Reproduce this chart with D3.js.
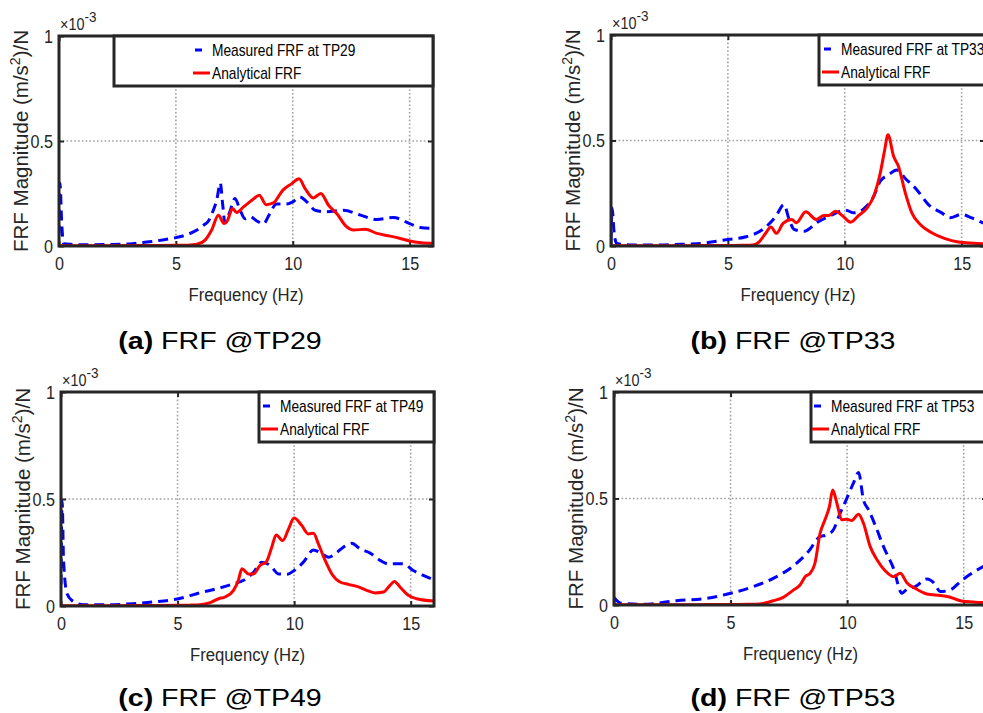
<!DOCTYPE html>
<html>
<head>
<meta charset="utf-8">
<script src="https://cdn.jsdelivr.net/npm/d3@7"></script>
<style>
  body { margin: 0; background: #fff; }
  svg { display: block; }
  text { font-family: "Liberation Sans", Arial, sans-serif; }
  .dark { fill: #262626; }
</style>
</head>
<body>
<svg class="chart" width="983" height="713"></svg>
<script>
// values are in units of 1e-3 (m/s^2)/N
const tp29MeasFreq = [0, 0.04, 0.12, 0.2, 0.5, 1, 2, 3, 3.5, 4, 4.5, 5, 5.5, 5.9, 6.2, 6.4, 6.6, 6.75, 6.9, 7.0, 7.1, 7.3, 7.53, 7.75, 7.96, 8.17, 8.45, 8.74, 9.0, 9.3, 9.74, 10.0, 10.3, 10.6, 10.96, 11.45, 12.17, 12.9, 13.6, 14.3, 15.0, 15.45, 16];
const tp29MeasMag = [0.05, 0.30, 0.1, 0.012, 0.008, 0.006, 0.007, 0.01, 0.016, 0.022, 0.03, 0.04, 0.055, 0.076, 0.1, 0.12, 0.17, 0.22, 0.30, 0.2, 0.11, 0.16, 0.226, 0.17, 0.13, 0.14, 0.12, 0.105, 0.15, 0.2, 0.2, 0.21, 0.234, 0.21, 0.17, 0.163, 0.17, 0.147, 0.126, 0.136, 0.107, 0.088, 0.084];
const tp29AnaFreq = [0, 1, 2, 3, 4, 5, 5.5, 5.9, 6.25, 6.53, 6.82, 7.06, 7.2, 7.42, 7.6, 7.89, 8.25, 8.57, 8.86, 9.17, 9.57, 9.96, 10.27, 10.53, 10.88, 11.2, 11.53, 11.88, 12.3, 12.6, 13.1, 13.6, 14.17, 14.6, 15.0, 15.5, 16];
const tp29AnaMag = [0.001, 0.001, 0.001, 0.002, 0.002, 0.003, 0.004, 0.008, 0.028, 0.076, 0.147, 0.107, 0.12, 0.178, 0.16, 0.186, 0.218, 0.242, 0.197, 0.205, 0.265, 0.297, 0.32, 0.273, 0.229, 0.25, 0.194, 0.155, 0.092, 0.076, 0.08, 0.06, 0.047, 0.036, 0.024, 0.016, 0.013];

const tp33MeasFreq = [0, 0.05, 0.12, 0.24, 0.5, 1, 2, 3, 3.9, 5, 5.78, 6.5, 7.05, 7.4, 7.62, 7.83, 8.26, 8.83, 9.32, 10.03, 10.39, 10.81, 11.24, 11.52, 11.88, 12.23, 12.59, 13.08, 13.58, 14.15, 14.5, 15, 15.4, 16];
const tp33MeasMag = [0.02, 0.18, 0.08, 0.012, 0.008, 0.005, 0.005, 0.008, 0.013, 0.031, 0.044, 0.079, 0.14, 0.196, 0.126, 0.079, 0.07, 0.113, 0.14, 0.17, 0.157, 0.176, 0.236, 0.307, 0.338, 0.36, 0.32, 0.267, 0.196, 0.157, 0.134, 0.15, 0.134, 0.105];
const tp33AnaFreq = [0, 1, 2, 3, 4, 5, 5.6, 6.06, 6.34, 6.63, 6.84, 7.08, 7.36, 7.73, 7.93, 8.33, 8.78, 9.11, 9.32, 9.6, 9.89, 10.25, 10.6, 10.95, 11.24, 11.52, 11.7, 11.85, 12.09, 12.3, 12.59, 12.87, 13.23, 13.72, 14.29, 14.86, 15.5, 16];
const tp33AnaMag = [0.001, 0.001, 0.001, 0.001, 0.002, 0.002, 0.003, 0.005, 0.02, 0.063, 0.09, 0.06, 0.107, 0.126, 0.11, 0.162, 0.126, 0.145, 0.145, 0.165, 0.145, 0.113, 0.145, 0.18, 0.236, 0.346, 0.45, 0.527, 0.425, 0.377, 0.252, 0.157, 0.102, 0.063, 0.035, 0.019, 0.013, 0.01];

const tp49MeasFreq = [0, 0.05, 0.11, 0.26, 0.47, 0.97, 2, 3.1, 3.97, 5, 5.97, 6.69, 7.4, 7.83, 8.26, 8.61, 8.97, 9.33, 9.69, 10.04, 10.4, 10.83, 11.11, 11.47, 11.83, 12.11, 12.47, 12.83, 13.26, 13.69, 14.04, 14.69, 15.11, 15.54, 16];
const tp49MeasMag = [0.1, 0.49, 0.21, 0.057, 0.026, 0.006, 0.006, 0.011, 0.019, 0.033, 0.062, 0.081, 0.104, 0.12, 0.158, 0.205, 0.19, 0.15, 0.148, 0.169, 0.205, 0.262, 0.25, 0.228, 0.25, 0.275, 0.293, 0.267, 0.247, 0.213, 0.197, 0.197, 0.166, 0.143, 0.122];
const tp49AnaFreq = [0, 1, 2, 3, 4, 5, 5.5, 5.97, 6.4, 6.76, 7.04, 7.4, 7.61, 7.76, 8.04, 8.26, 8.54, 8.8, 9.04, 9.23, 9.51, 9.76, 10.0, 10.33, 10.61, 10.83, 11.04, 11.33, 11.61, 11.97, 12.33, 12.76, 13.11, 13.47, 13.83, 14.11, 14.3, 14.54, 14.9, 15.26, 16];
const tp49AnaMag = [0.001, 0.001, 0.001, 0.002, 0.002, 0.003, 0.004, 0.006, 0.016, 0.034, 0.042, 0.073, 0.12, 0.174, 0.15, 0.15, 0.19, 0.205, 0.275, 0.332, 0.306, 0.36, 0.411, 0.376, 0.337, 0.34, 0.29, 0.213, 0.151, 0.112, 0.101, 0.089, 0.073, 0.061, 0.065, 0.096, 0.115, 0.089, 0.05, 0.034, 0.023];

const tp53MeasFreq = [0, 0.17, 0.3, 1.25, 2.68, 3.97, 5, 5.97, 6.83, 7.69, 8.34, 8.84, 9.13, 9.41, 9.7, 9.96, 10.27, 10.49, 10.7, 10.92, 11.2, 11.56, 11.99, 12.35, 12.56, 12.92, 13.42, 13.71, 14.0, 14.43, 14.86, 15.28, 16];
const tp53MeasMag = [0.036, 0.016, 0.008, 0.003, 0.02, 0.031, 0.055, 0.086, 0.125, 0.183, 0.251, 0.321, 0.329, 0.353, 0.431, 0.494, 0.572, 0.622, 0.494, 0.447, 0.376, 0.274, 0.172, 0.055, 0.074, 0.086, 0.122, 0.105, 0.063, 0.071, 0.11, 0.144, 0.19];
const tp53AnaFreq = [0, 1, 2, 3, 4, 5, 5.7, 6.26, 6.83, 7.26, 7.69, 7.98, 8.2, 8.41, 8.62, 8.84, 9.05, 9.24, 9.38, 9.56, 9.77, 9.99, 10.2, 10.49, 10.7, 10.99, 11.28, 11.63, 11.99, 12.28, 12.56, 12.99, 13.42, 14.0, 14.35, 14.86, 15.5, 16];
const tp53AnaMag = [0.001, 0.001, 0.001, 0.001, 0.002, 0.002, 0.003, 0.005, 0.02, 0.036, 0.07, 0.094, 0.133, 0.149, 0.196, 0.337, 0.4, 0.462, 0.54, 0.478, 0.4, 0.403, 0.397, 0.426, 0.384, 0.274, 0.212, 0.161, 0.133, 0.149, 0.105, 0.074, 0.052, 0.045, 0.039, 0.02, 0.013, 0.011];

const xTicks = [0, 5, 10, 15];
const yTicks = [0, 0.5, 1];
const yTickLabels = ['0', '0.5', '1'];
const testPoints = ['TP29', 'TP33', 'TP49', 'TP53'];
const panelTags = ['(a)', '(b)', '(c)', '(d)'];

const zip = (xs, ys) => xs.map((x, i) => [x, ys[i]]);
const series = [
  [zip(tp29MeasFreq, tp29MeasMag), zip(tp29AnaFreq, tp29AnaMag)],
  [zip(tp33MeasFreq, tp33MeasMag), zip(tp33AnaFreq, tp33AnaMag)],
  [zip(tp49MeasFreq, tp49MeasMag), zip(tp49AnaFreq, tp49AnaMag)],
  [zip(tp53MeasFreq, tp53MeasMag), zip(tp53AnaFreq, tp53AnaMag)],
];

// axes boxes, legend boxes and caption spots, in page pixels
const layouts = [
  { left: 59, top: 36, right: 433, bottom: 246, legend: { x0: 114, x1: 433, h: 50, sx: 193 }, capX: 220, capY: 349 },
  { left: 611, top: 35, right: 985, bottom: 246, legend: { x0: 819, x1: 990, h: 50, sx: 822 }, capX: 793, capY: 349 },
  { left: 61, top: 392, right: 434, bottom: 606, legend: { x0: 259, x1: 434, h: 50, sx: 261 }, capX: 220, capY: 706 },
  { left: 614, top: 392, right: 987, bottom: 605, legend: { x0: 811, x1: 990, h: 50, sx: 812 }, capX: 793, capY: 706 },
];

const svg = d3.select('.chart');
const axisColor = '#262626';

// the figure's lettering is squeezed or stretched sideways, so scale it in x
const scaledText = (parent, x, y, sx, size) => parent.append('g')
  .attr('transform', `translate(${x},${y}) scale(${sx},1)`)
  .append('text')
  .attr('font-size', size);

const drawPanel = (lay, i) => {
  const [measured, analytical] = series[i];
  const x = d3.scaleLinear().domain([0, 16]).range([lay.left, lay.right]);
  const y = d3.scaleLinear().domain([0, 1]).range([lay.bottom, lay.top]);
  const g = svg.append('g');
  const clipId = `clip-${i}`;

  g.append('clipPath').attr('id', clipId)
    .append('rect')
    .attr('x', lay.left).attr('y', lay.top)
    .attr('width', lay.right - lay.left).attr('height', lay.bottom - lay.top);

  // dotted grid
  const grid = g.append('g')
    .attr('stroke', '#a0a0a0').attr('stroke-width', 1.6).attr('stroke-dasharray', '1.6,2.2');
  grid.selectAll('.gx').data(xTicks.slice(1)).enter().append('line')
    .attr('x1', d => x(d)).attr('x2', d => x(d))
    .attr('y1', lay.top).attr('y2', lay.bottom);
  grid.selectAll('.gy').data([0.5]).enter().append('line')
    .attr('x1', lay.left).attr('x2', lay.right)
    .attr('y1', d => y(d)).attr('y2', d => y(d));

  // axes with inward ticks and box
  const xAxis = d3.axisBottom(x).tickValues(xTicks).tickSize(-5).tickPadding(11);
  const yAxis = d3.axisLeft(y).tickValues(yTicks).tickSize(-5).tickPadding(7)
    .tickFormat((d, k) => yTickLabels[k]);
  const styleAxis = sel => {
    sel.select('.domain').remove();
    sel.attr('font-family', null).attr('font-size', null);
    sel.selectAll('line').attr('stroke', axisColor).attr('stroke-width', 2);
    sel.selectAll('text')
      .attr('font-size', 19).attr('fill', axisColor)
      .attr('transform', 'scale(0.85,1)');
  };
  g.append('g').attr('transform', `translate(0,${lay.bottom})`).call(xAxis).call(styleAxis);
  g.append('g').attr('transform', `translate(${lay.left},0)`).call(yAxis).call(styleAxis);
  g.append('g').attr('transform', `translate(0,${lay.top})`)
    .call(d3.axisTop(x).tickValues(xTicks).tickSize(-5).tickFormat(''))
    .call(styleAxis);
  g.append('g').attr('transform', `translate(${lay.right},0)`)
    .call(d3.axisRight(y).tickValues(yTicks).tickSize(-5).tickFormat(''))
    .call(styleAxis);

  // curves
  const line = d3.line().x(d => x(d[0])).y(d => y(d[1])).curve(d3.curveMonotoneX);
  const plot = g.append('g').attr('clip-path', `url(#${clipId})`);
  plot.append('path').datum(measured)
    .attr('d', line).attr('fill', 'none')
    .attr('stroke', '#0000ff').attr('stroke-width', 3)
    .attr('stroke-dasharray', '10,6');
  plot.append('path').datum(analytical)
    .attr('d', line).attr('fill', 'none')
    .attr('stroke', '#ff0000').attr('stroke-width', 3);

  g.append('rect')
    .attr('x', lay.left).attr('y', lay.top)
    .attr('width', lay.right - lay.left).attr('height', lay.bottom - lay.top)
    .attr('fill', 'none').attr('stroke', axisColor).attr('stroke-width', 3);

  // exponent label
  const expo = scaledText(g, lay.left + 1, lay.top - 6, 0.9, 16).attr('class', 'dark');
  expo.append('tspan').text('\u00d710');
  expo.append('tspan').attr('dy', -8).attr('font-size', 15).text('-3');

  // legend
  const lg = lay.legend;
  const legend = g.append('g');
  legend.append('rect')
    .attr('x', lg.x0).attr('y', lay.top)
    .attr('width', lg.x1 - lg.x0).attr('height', lg.h)
    .attr('fill', '#fff').attr('stroke', axisColor).attr('stroke-width', 3);
  const entries = [
    { label: `Measured FRF at ${testPoints[i]}`, color: '#0000ff', dashed: true, dy: 14 },
    { label: 'Analytical FRF', color: '#ff0000', dashed: false, dy: 37 },
  ];
  entries.forEach(e => {
    legend.append('line')
      .attr('x1', lg.sx).attr('x2', lg.sx + 17)
      .attr('y1', lay.top + e.dy).attr('y2', lay.top + e.dy)
      .attr('stroke', e.color).attr('stroke-width', 3)
      .attr('stroke-dasharray', e.dashed ? '0,2,7,20' : null);
    scaledText(legend, lg.sx + 19, lay.top + e.dy, 0.86, 16)
      .attr('fill', '#000').attr('dy', '0.35em')
      .text(e.label);
  });

  // axis titles
  const cx = (lay.left + lay.right) / 2;
  scaledText(g, cx, lay.bottom + 55, 0.88, 19)
    .attr('class', 'dark').attr('text-anchor', 'middle')
    .text('Frequency (Hz)');

  const cy = (lay.top + lay.bottom) / 2;
  const ylab = g.append('text').attr('class', 'dark').attr('font-size', 20.5)
    .attr('text-anchor', 'middle')
    .attr('transform', `translate(${lay.left - 31},${cy}) rotate(-90)`);
  ylab.append('tspan').text('FRF Magnitude (m/s');
  ylab.append('tspan').attr('dy', -8).attr('font-size', 14).text('2');
  ylab.append('tspan').attr('dy', 8).text(')/N');

  // caption
  const cap = scaledText(g, lay.capX, lay.capY, 1.19, 24)
    .attr('fill', '#000').attr('text-anchor', 'middle');
  cap.append('tspan').attr('font-weight', 'bold').text(panelTags[i]);
  cap.append('tspan').text(` FRF @${testPoints[i]}`);
};

layouts.forEach(drawPanel);
</script>
</body>
</html>
